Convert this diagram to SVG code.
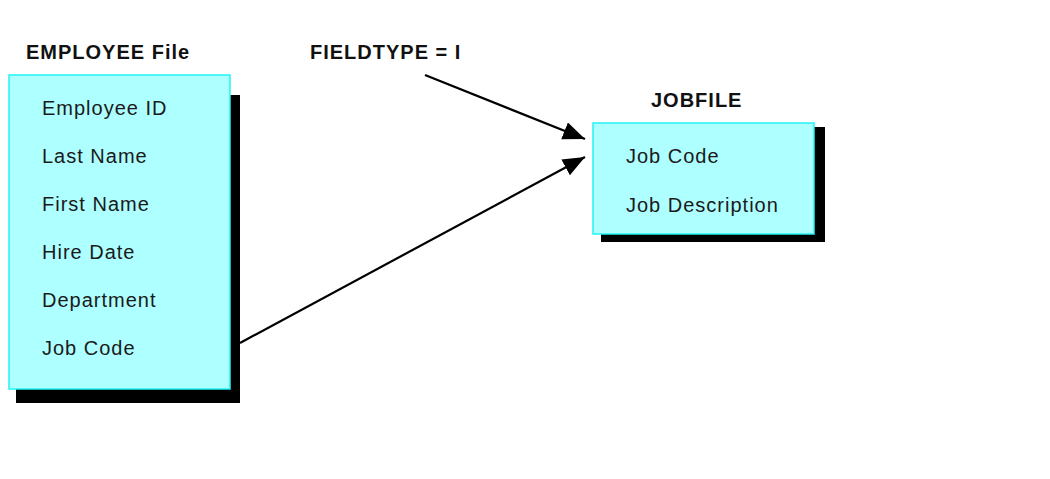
<svg xmlns="http://www.w3.org/2000/svg" width="1050" height="479" viewBox="0 0 1050 479">
<style>
.box{fill:#aeffff;stroke:#22f4f4;stroke-width:1.5}
.shadow{fill:#000}
.t{font-family:"Liberation Sans",Arial,sans-serif;font-size:20px;fill:#1a1a1a;letter-spacing:1px}
.h{font-family:"Liberation Sans",Arial,sans-serif;font-size:20px;font-weight:bold;fill:#111;letter-spacing:1px}
.c{stroke:#000;stroke-width:2.2;fill:none;marker-end:url(#arr)}
</style>
<defs>
<marker id="arr" markerUnits="userSpaceOnUse" markerWidth="24" markerHeight="20" refX="22" refY="9" orient="auto">
<polygon points="0,0 22,9 0,18" fill="#000"/>
</marker>
</defs>
<rect width="1050" height="479" fill="#fff"/>
<g id="employee">
<rect class="shadow" x="16" y="95" width="224" height="308"/>
<rect class="box" x="9" y="75" width="221" height="314"/>
<text class="h" x="26" y="59">EMPLOYEE File</text>
<text class="t" x="42" y="115">Employee ID</text>
<text class="t" x="42" y="163">Last Name</text>
<text class="t" x="42" y="211">First Name</text>
<text class="t" x="42" y="259">Hire Date</text>
<text class="t" x="42" y="307">Department</text>
<text class="t" x="42" y="355">Job Code</text>
</g>
<g id="jobfile">
<rect class="shadow" x="601" y="127" width="224" height="115"/>
<rect class="box" x="593" y="123" width="221" height="111"/>
<text class="h" x="651" y="107">JOBFILE</text>
<text class="t" x="626" y="163">Job Code</text>
<text class="t" x="626" y="212">Job Description</text>
</g>
<g id="fieldtype">
<text class="h" x="310" y="59">FIELDTYPE = I</text>
</g>
<g id="connectors">
<line class="c" x1="425" y1="75" x2="585" y2="139"/>
<line class="c" x1="240" y1="343" x2="585" y2="157"/>
</g>
</svg>
